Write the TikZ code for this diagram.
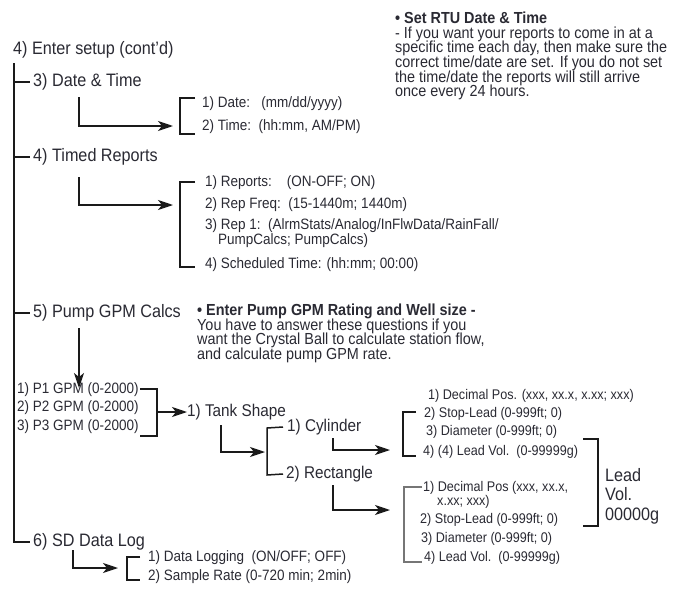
\documentclass[tikz,border=0pt]{standalone}
\usepackage{fontspec}
\setmainfont{Liberation Sans}[FakeStretch=0.9]
\usetikzlibrary{arrows.meta}
\definecolor{ink}{HTML}{2A2A33}
\definecolor{lineink}{HTML}{1A1A1A}
\newcommand\mynotefont{\fontsize{16}{14.6}\selectfont\lineskiplimit=-20pt\relax}
\begin{document}
\begin{tikzpicture}[x=1pt,y=-1pt,
  txt/.style={anchor=west,inner sep=0pt,text=ink},
  head/.style={txt,font=\fontsize{18}{18}\selectfont},
  sub/.style={txt,font=\fontsize{17}{17}\selectfont},
  item/.style={txt,font=\fontsize{15}{15}\selectfont},
  small/.style={txt,font=\fontsize{14}{14}\selectfont},
  note/.style={txt,anchor=north west,align=left,font=\mynotefont},
  ln/.style={line width=1.5pt,draw=lineink},
  lngray/.style={line width=1.3pt,draw=lineink!60},
  arr/.style={ln,-{Stealth[length=15pt,width=10pt,inset=4pt]}},
]
\path[use as bounding box,fill=white] (0,0) rectangle (678,589);

% ---- texts ----
\node[head] (root) at (13,50) {4) Enter setup (cont'd)};
\node[head] (dt) at (33,82) {3) Date \& Time};
\node[item] (date) at (202,104) {1) Date:\ \ \ (mm/dd/yyyy)};
\node[item] (time) at (202,127) {2) Time:\ \ (hh:mm, AM/PM)};
\node[head] (tr) at (33,157) {4) Timed Reports};
\node[item] (rep) at (205,183) {1) Reports:\ \ \ \ (ON-OFF; ON)};
\node[item] (freq) at (205,205) {2) Rep Freq:\ \ (15-1440m; 1440m)};
\node[item] (rep1) at (205,226) {3) Rep 1:\ \ (AlrmStats/Analog/InFlwData/RainFall/};
\node[item] (rep1b) at (218,241) {PumpCalcs; PumpCalcs)};
\node[item] (sched) at (205,265) {4) Scheduled Time: (hh:mm; 00:00)};
\node[head] (pump) at (33,313) {5) Pump GPM Calcs};
\node[item] (p1) at (17,390) {1) P1 GPM (0-2000)};
\node[item] (p2) at (17,408) {2) P2 GPM (0-2000)};
\node[item] (p3) at (17,427) {3) P3 GPM (0-2000)};
\node[sub] (tank) at (187,412) {1) Tank Shape};
\node[sub] (cyl) at (287,427) {1) Cylinder};
\node[sub] (rect) at (286,474) {2) Rectangle};
\node[small] (c1) at (428,396) {1) Decimal Pos. (xxx, xx.x, x.xx; xxx)};
\node[small] (c2) at (424,414) {2) Stop-Lead (0-999ft; 0)};
\node[small] (c3) at (426,432) {3) Diameter (0-999ft; 0)};
\node[small] (c4) at (423,452) {4) (4) Lead Vol.\ \ (0-99999g)};
\node[small] (r1) at (423,488) {1) Decimal Pos (xxx, xx.x,};
\node[small] (r1b) at (437,502) {x.xx; xxx)};
\node[small] (r2) at (420,520) {2) Stop-Lead (0-999ft; 0)};
\node[small] (r3) at (421,539) {3) Diameter (0-999ft; 0)};
\node[small] (r4) at (424,558) {4) Lead Vol.\ \ (0-99999g)};
\node[txt,align=left,font=\fontsize{18}{19.5}\selectfont] (lead) at (605,496) {Lead\\Vol.\\00000g};
\node[head] (sd) at (33,542) {6) SD Data Log};
\node[item] (dl) at (148,558) {1) Data Logging\ \ (ON/OFF; OFF)};
\node[item] (sr) at (148,577) {2) Sample Rate (0-720 min; 2min)};

\node[note] (n1) at (395,12) {\textbf{• Set RTU Date \& Time}\\
- If you want your reports to come in at a\\
specific time each day, then make sure the\\
correct time/date are set. If you do not set\\
the time/date the reports will still arrive\\
once every 24 hours.};
\node[note] (n2) at (197,304) {\textbf{• Enter Pump GPM Rating and Well size -}\\
You have to answer these questions if you\\
want the Crystal Ball to calculate station flow,\\
and calculate pump GPM rate.};

% ---- spine ----
\coordinate (sp) at (14,63);
\draw[ln] (sp) |- ([xshift=-3pt]sd.west);
\foreach \n in {dt,tr,pump} \draw[ln] (sp |- \n.west) -- ([xshift=-3pt]\n.west);

% ---- Date & Time ----
\coordinate (dtA) at (79,97);
\coordinate (dtB) at (173,126);
\draw[arr] (dtA) |- (dtB);
\draw[ln] (195,98) -- (180,98) -- (180,134) -- (195,134);

% ---- Timed reports ----
\coordinate (trA) at (79,177);
\coordinate (trB) at (173,205);
\draw[arr] (trA) |- (trB);
\draw[ln] (195,182) -- (180,182) -- (180,267) -- (195,267);

% ---- Pump ----
\coordinate (pA) at (79,328);
\coordinate (pB) at (79,388);
\draw[arr] (pA) -- (pB);
\draw[ln] (140,389) -- (157,389) -- (157,436) -- (140,436);
\coordinate (pC) at (157,412);
\draw[arr] (pC) -- (tank.west);

% ---- Tank shape ----
\coordinate (tA) at (221,425);
\coordinate (tB) at (265,452);
\draw[arr] (tA) |- (tB);
\draw[ln] (cyl.west) ++(-4,0) -- (267,428) -- (267,475) -- ([xshift=-3pt]rect.west);

% ---- Cylinder ----
\coordinate (cA) at (333,438);
\coordinate (cB) at (390,450);
\draw[arr] (cA) |- (cB);
\draw[ln] (416,412) -- (403,412) -- (403,456) -- (416,456);

% ---- Rectangle ----
\coordinate (rA) at (333,485);
\coordinate (rB) at (390,510);
\draw[arr] (rA) |- (rB);
\draw[lngray] (422,487) -- (404,487) -- (404,562) -- (422,562);

% ---- Lead bracket ----
\draw[ln] (583,439) -- (598,439) -- (598,526) -- (583,526);

% ---- SD data log ----
\coordinate (sA) at (73,550);
\coordinate (sB) at (118,568);
\draw[arr] (sA) |- (sB);
\draw[ln] (140,557) -- (127,557) -- (127,580) -- (140,580);
\end{tikzpicture}
\end{document}
